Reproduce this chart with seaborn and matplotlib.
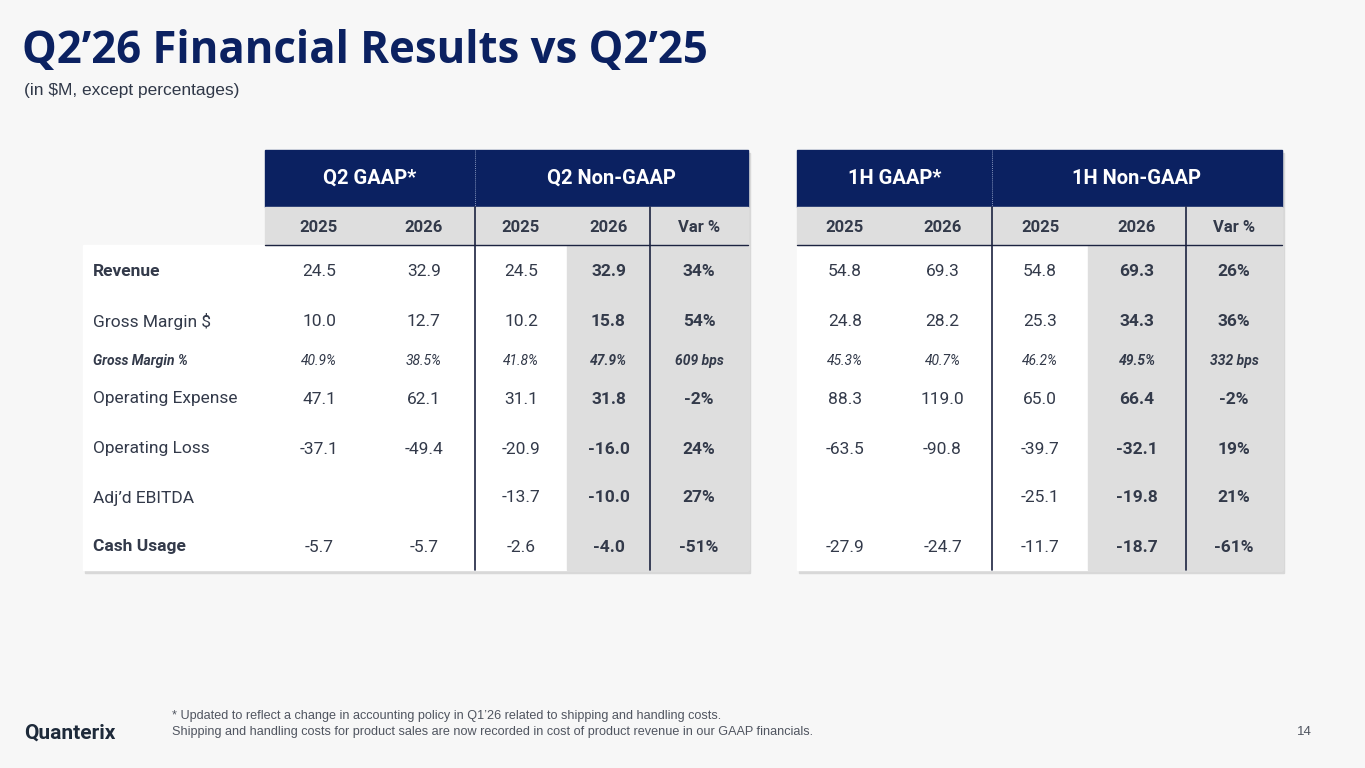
import matplotlib
matplotlib.use('Agg')
import matplotlib.pyplot as plt
import seaborn as sns
from matplotlib.patches import Rectangle

sns.set_theme(style='white')
plt.rcParams['font.family'] = ['Roboto', 'DejaVu Sans']

# Data
row_labels = ['Revenue', 'Gross Margin $', 'Gross Margin %', 'Operating Expense',
              'Operating Loss', "Adj’d EBITDA", 'Cash Usage']
year_labels = ['2025', '2026', '2025', '2026', 'Var %']
q2_values = [
    ['24.5', '32.9', '24.5', '32.9', '34%'],
    ['10.0', '12.7', '10.2', '15.8', '54%'],
    ['40.9%', '38.5%', '41.8%', '47.9%', '609 bps'],
    ['47.1', '62.1', '31.1', '31.8', '-2%'],
    ['-37.1', '-49.4', '-20.9', '-16.0', '24%'],
    ['', '', '-13.7', '-10.0', '27%'],
    ['-5.7', '-5.7', '-2.6', '-4.0', '-51%'],
]
h1_values = [
    ['54.8', '69.3', '54.8', '69.3', '26%'],
    ['24.8', '28.2', '25.3', '34.3', '36%'],
    ['45.3%', '40.7%', '46.2%', '49.5%', '332 bps'],
    ['88.3', '119.0', '65.0', '66.4', '-2%'],
    ['-63.5', '-90.8', '-39.7', '-32.1', '19%'],
    ['', '', '-25.1', '-19.8', '21%'],
    ['-27.9', '-24.7', '-11.7', '-18.7', '-61%'],
]
q2_groups = ['Q2 GAAP*', 'Q2 Non-GAAP']
h1_groups = ['1H GAAP*', '1H Non-GAAP']

NAVY = '#0b2161'
TXT = '#333a4a'
BG = '#f7f7f7'
GRAY = '#dedede'
LINE = '#1c2340'

fig = plt.figure(figsize=(13.65, 7.68), dpi=100, facecolor=BG)
ax = fig.add_axes([0, 0, 1, 1])
ax.set_xlim(0, 1365)
ax.set_ylim(768, 0)
ax.axis('off')
ax.set_facecolor(BG)

row_y = [271, 321, 361, 399, 449, 498, 547]
top, head_bot, year_bot, body_bot = 150, 207, 245, 570


def draw_table(x_edges, values, groups, label_x=None):
    x0, x1 = x_edges[0], x_edges[-1]
    bx0 = label_x if label_x is not None else x0
    # shadow + body
    ax.add_patch(Rectangle((bx0 + 2, year_bot + 3), x1 - bx0, body_bot - year_bot, color='#d8d8d8', zorder=0))
    ax.add_patch(Rectangle((x0 + 2, top + 3), x1 - x0, year_bot - top, color='#d8d8d8', zorder=0))
    ax.add_patch(Rectangle((bx0, year_bot), x1 - bx0, body_bot - year_bot, color='white', zorder=1))
    ax.add_patch(Rectangle((x0, top), x1 - x0, head_bot - top, color=NAVY, zorder=1))
    ax.add_patch(Rectangle((x0, head_bot), x1 - x0, year_bot - head_bot, color=GRAY, zorder=1))
    ax.add_patch(Rectangle((x_edges[3], year_bot), x1 - x_edges[3], body_bot - year_bot, color=GRAY, zorder=1))
    # lines
    ax.plot([x_edges[2], x_edges[2]], [top, head_bot], color='#8090b8', lw=0.7, ls=(0, (1, 1)), zorder=2)
    ax.plot([x_edges[2], x_edges[2]], [head_bot, body_bot], color=LINE, lw=1.2, zorder=2)
    ax.plot([x_edges[4], x_edges[4]], [head_bot, body_bot], color=LINE, lw=1.2, zorder=2)
    ax.plot([x0, x1], [year_bot, year_bot], color=LINE, lw=1.0, zorder=2)
    # group headers
    ax.text((x0 + x_edges[2]) / 2, 178, groups[0], color='white', fontsize=14.5,
            fontweight='bold', ha='center', va='center', zorder=3)
    ax.text((x_edges[2] + x1) / 2, 178, groups[1], color='white', fontsize=14.5,
            fontweight='bold', ha='center', va='center', zorder=3)
    centers = [(x_edges[i] + x_edges[i + 1]) / 2 for i in range(5)]
    for cx, yl in zip(centers, year_labels):
        ax.text(cx, 227, yl, color=TXT, fontsize=12, fontweight='bold', ha='center', va='center', zorder=3)
    for r, (y, row) in enumerate(zip(row_y, values)):
        for c, (cx, v) in enumerate(zip(centers, row)):
            bold = c >= 3
            if r == 2:
                ax.text(cx, y, v, color=TXT, fontsize=10, fontstyle='italic',
                        fontweight='bold' if bold else 'normal', ha='center', va='center', zorder=3)
            else:
                ax.text(cx, y, v, color=TXT, fontsize=12.5,
                        fontweight='bold' if bold else 'normal', ha='center', va='center', zorder=3)


draw_table([265, 373, 475, 567, 650, 748], q2_values, q2_groups, label_x=83)
draw_table([797, 893, 992, 1088, 1186, 1282], h1_values, h1_groups)

for r, (y, lab) in enumerate(zip(row_y, row_labels)):
    if r == 2:
        ax.text(93, y, lab, color=TXT, fontsize=10, fontweight='bold', fontstyle='italic', va='center', zorder=3)
    else:
        ax.text(93, y, lab, color=TXT, fontsize=12.5,
                fontweight='bold' if r in (0, 6) else 'normal', va='center', zorder=3)

# titles and footer
ax.text(22, 52, 'Q2’26 Financial Results vs Q2’25', color=NAVY, fontsize=31.5, fontweight='bold',
        family=['Open Sans', 'DejaVu Sans'], va='center')
ax.text(24, 91, '(in $M, except percentages)', color='#303848', fontsize=12.5,
        family=['Liberation Sans', 'DejaVu Sans'], va='center')
ax.text(172, 716, '* Updated to reflect a change in accounting policy in Q1’26 related to shipping and handling costs.',
        color='#505560', fontsize=9.1, family=['Liberation Sans', 'DejaVu Sans'], va='center')
ax.text(172, 732, 'Shipping and handling costs for product sales are now recorded in cost of product revenue in our GAAP financials.',
        color='#505560', fontsize=9.1, family=['Liberation Sans', 'DejaVu Sans'], va='center')
ax.text(24, 733, 'Quanterix', color='#1e2a3a', fontsize=15, fontweight='bold', va='center')
ax.text(1312, 732, '14', color='#505560', fontsize=9.5, ha='right', va='center',
        family=['Liberation Sans', 'DejaVu Sans'])

fig.savefig('out.png', dpi=100, facecolor=BG)
